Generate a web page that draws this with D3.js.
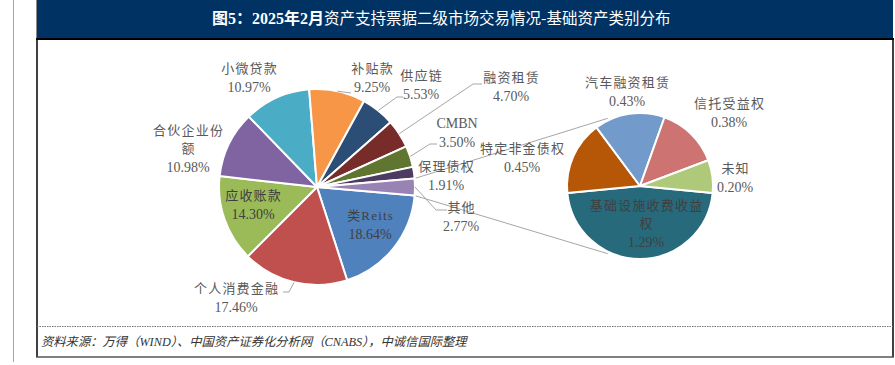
<!DOCTYPE html>
<html>
<head>
<meta charset="utf-8">
<script src="https://cdn.jsdelivr.net/npm/d3@7/dist/d3.min.js"></script>
<style>
  html, body { margin: 0; padding: 0; background: #fff; }
  svg { display: block; }
</style>
</head>
<body>
<div id="chart"></div>
<script>
// ---------------- data ----------------
const mainCategories = ["类Reits", "个人消费金融", "应收账款", "合伙企业份额", "小微贷款", "补贴款", "供应链", "融资租赁", "CMBN", "保理债权", "其他"];
const mainValues = [18.64, 17.46, 14.30, 10.98, 10.97, 9.25, 5.53, 4.70, 3.50, 1.91, 2.77];
const subCategories = ["基础设施收费收益权", "特定非金债权", "汽车融资租赁", "信托受益权", "未知"];
const subValues = [1.29, 0.45, 0.43, 0.38, 0.20];
const titleBold = "图5：2025年2月";
const titleRest = "资产支持票据二级市场交易情况-基础资产类别分布";
const sourceText = "资料来源：万得（WIND）、中国资产证券化分析网（CNABS），中诚信国际整理";

// ---------------- styles / layout ----------------
const mainColors = ["#4F81BD", "#C0504D", "#9BBB59", "#8064A2", "#4BACC6", "#F79646", "#2C4D75", "#772C2A", "#5F7530", "#4D3B62", "#9983B5"];
const subColors = ["#276A7C", "#B65708", "#729ACA", "#CD7371", "#AFC97A"];

const W = 895, H = 365;
const main = { cx: 317, cy: 187, r: 98 };
const sub = { cx: 640, cy: 186, r: 73 };

// label placement (centre of first line) and leader polyline after the slice point
const mainLabelLayout = {
  "类Reits":   { x: 370, y: 215, inside: true },
  "个人消费金融": { x: 236, y: 288, leader: [[289, 292], [283, 292]] },
  "应收账款":   { x: 253, y: 195, inside: true },
  "合伙企业份额": { x: 188, y: 130, lines: ["合伙企业份", "额"] },
  "小微贷款":   { x: 249, y: 68 },
  "补贴款":     { x: 372, y: 68, leader: [[351, 93]] },
  "供应链":     { x: 421, y: 75, leader: [[397, 97], [403, 97]] },
  "融资租赁":   { x: 511, y: 77, leader: [[473, 84], [482, 84]] },
  "CMBN":      { x: 457, y: 123, leader: [[430, 144], [437, 144]] },
  "保理债权":   { x: 446, y: 166 },
  "其他":       { x: 461, y: 207, leader: [[436, 210], [447, 210]] }
};
const subLabelLayout = {
  "基础设施收费收益权": { x: 646, y: 205, inside: true, lines: ["基础设施收费收益", "权"] },
  "特定非金债权": { x: 522, y: 148 },
  "汽车融资租赁": { x: 627, y: 82 },
  "信托受益权":   { x: 729, y: 103 },
  "未知":         { x: 735, y: 168 }
};
const lineH = 18.5;
const fontStack = "'Liberation Serif', 'Times New Roman', 'Noto Sans CJK SC', serif";

// ---------------- drawing ----------------
const svg = d3.select("#chart").append("svg").attr("width", W).attr("height", H);

// page margin line
svg.append("line").attr("x1", 13.5).attr("x2", 13.5).attr("y1", 0).attr("y2", 362)
  .attr("stroke", "#a6a6a6").attr("stroke-width", 1);

// title bar
svg.append("rect").attr("x", 36).attr("y", 0).attr("width", 857).attr("height", 38).attr("fill", "#003263");
svg.append("line").attr("x1", 36.5).attr("x2", 36.5).attr("y1", 0).attr("y2", 38).attr("stroke", "#8a8a8a").attr("stroke-width", 1);
const title = svg.append("text").attr("x", 212).attr("y", 24).attr("fill", "#fff")
  .attr("font-family", fontStack).attr("font-size", 16);
title.append("tspan").attr("font-weight", "bold").text(titleBold);
title.append("tspan").attr("font-family", "'Noto Sans CJK SC', sans-serif").attr("font-size", 15.5).text(titleRest);

// frame
svg.append("line").attr("x1", 36).attr("x2", 894).attr("y1", 39).attr("y2", 39).attr("stroke", "#000").attr("stroke-width", 2);
svg.append("line").attr("x1", 37).attr("x2", 37).attr("y1", 39).attr("y2", 357).attr("stroke", "#000").attr("stroke-width", 1.5);
svg.append("line").attr("x1", 893).attr("x2", 893).attr("y1", 39).attr("y2", 357).attr("stroke", "#000").attr("stroke-width", 1.5);
svg.append("line").attr("x1", 36).attr("x2", 894).attr("y1", 357).attr("y2", 357).attr("stroke", "#555").attr("stroke-width", 1.5);
svg.append("line").attr("x1", 37).attr("x2", 893).attr("y1", 326.5).attr("y2", 326.5)
  .attr("stroke", "#777").attr("stroke-width", 1).attr("stroke-dasharray", "1.5,1");
svg.append("text").attr("x", 41).attr("y", 346).attr("fill", "#333")
  .attr("font-family", "'Liberation Serif', 'Noto Sans CJK SC', serif").attr("font-size", 12.3)
  .attr("font-style", "italic").text(sourceText);

// pies
const mainTotal = d3.sum(mainValues);
const subTotal = d3.sum(subValues);
const otherVal = mainValues[mainValues.length - 1];
const a0 = Math.PI / 2 + (otherVal / mainTotal) * Math.PI;
const b0 = Math.PI - (subValues[0] / subTotal) * Math.PI;

const mainArcs = d3.pie().sort(null).value(d => d).startAngle(a0).endAngle(a0 + 2 * Math.PI)(mainValues);
const subArcs = d3.pie().sort(null).value(d => d).startAngle(b0).endAngle(b0 + 2 * Math.PI)(subValues);

const pt = (c, r, a) => [c.cx + r * Math.sin(a), c.cy - r * Math.cos(a)];

// connector lines between pies
const otherArc = mainArcs[mainArcs.length - 1];
const connA = 25.5 * Math.PI / 180;
const conns = [
  [pt(main, main.r, otherArc.startAngle), pt(sub, sub.r + 2, -connA)],
  [pt(main, main.r, otherArc.endAngle), pt(sub, sub.r + 2, Math.PI + connA)]
];
svg.append("g").selectAll("line").data(conns).join("line")
  .attr("x1", d => d[0][0]).attr("y1", d => d[0][1])
  .attr("x2", d => d[1][0]).attr("y2", d => d[1][1])
  .attr("stroke", "#a6a6a6").attr("stroke-width", 1);

function drawPie(c, arcs, colors) {
  const arc = d3.arc().innerRadius(0).outerRadius(c.r);
  svg.append("g").attr("transform", `translate(${c.cx},${c.cy})`)
    .selectAll("path").data(arcs).join("path")
    .attr("d", arc).attr("fill", (d, i) => colors[i])
    .attr("stroke", "#fff").attr("stroke-width", 2).attr("stroke-linejoin", "round");
}
drawPie(main, mainArcs, mainColors);
drawPie(sub, subArcs, subColors);

const fmt = v => d3.format(".2f")(v) + "%";
const isCJK = s => /[\u3400-\u9fff]/.test(s);

function drawLabels(c, arcs, cats, vals, layout) {
  const g = svg.append("g");
  arcs.forEach((a, i) => {
    const L = layout[cats[i]];
    if (!L) return;
    const mid = (a.startAngle + a.endAngle) / 2;
    if (L.leader) {
      const pts = [pt(c, c.r, mid)].concat(L.leader);
      g.append("path").attr("d", d3.line()(pts)).attr("fill", "none")
        .attr("stroke", "#a6a6a6").attr("stroke-width", 1);
    }
    const lines = (L.lines || [cats[i]]).concat([fmt(vals[i])]);
    lines.forEach((t, k) => {
      const cjk = isCJK(t);
      g.append("text")
        .attr("x", L.x + (cjk ? 0.6 : 0)).attr("y", L.y + k * lineH).attr("dy", "0.36em")
        .attr("text-anchor", "middle")
        .attr("font-family", fontStack)
        .attr("font-size", cjk ? 13 : 14)
        .attr("letter-spacing", cjk ? 1.2 : 0)
        .attr("fill", L.inside ? "#404040" : "#595959")
        .text(t);
    });
  });
}
drawLabels(main, mainArcs, mainCategories, mainValues, mainLabelLayout);
drawLabels(sub, subArcs, subCategories, subValues, subLabelLayout);
</script>
</body>
</html>
